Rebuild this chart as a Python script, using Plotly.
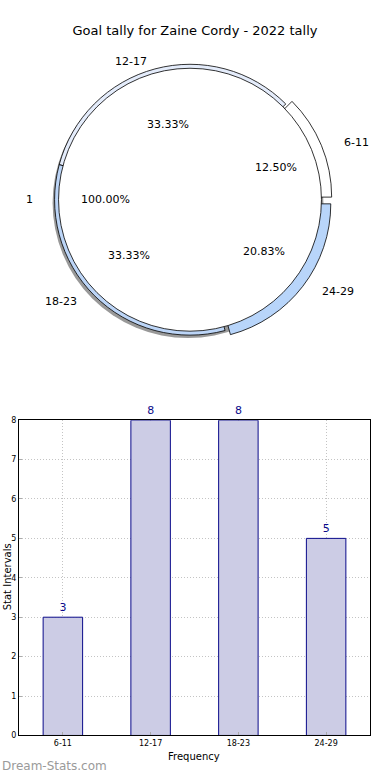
import math
import plotly.graph_objects as go

W, H = 390, 780

title = "Goal tally for Zaine Cordy - 2022 tally"
categories = ["6-11", "12-17", "18-23", "24-29"]
values = [3, 8, 8, 5]
inner_label = ["1"]
inner_value = [24]
y_ticks = [0, 1, 2, 3, 4, 5, 6, 7, 8]

slice_colors = ["#ffffff", "#e4ecfb", "#bcd5f7", "#b8d5fa"]
pulls = [0.05, 0, 0, 0.05]

FONT = "DejaVu Sans"

def px_x(x):
    return x / W

def px_y(y):
    return 1 - y / H

# pie geometry in pixels
cx, cy = 190, 198
R_out = 137
R_in = 133
maxpull = max(pulls)

def dom(cx_, cy_, half):
    return dict(x=[px_x(cx_ - half), px_x(cx_ + half)],
                y=[px_y(cy_ + half), px_y(cy_ - half)])

fig = go.Figure()

# shadow
fig.add_trace(go.Pie(values=inner_value, labels=["shadow"], sort=False,
                     marker=dict(colors=["#999999"], line=dict(width=0)),
                     textinfo="none", hoverinfo="skip", showlegend=False,
                     domain=dom(cx - 2, cy + 3, R_out)))

# outer ring (pie)
fig.add_trace(go.Pie(values=values, labels=categories, sort=False,
                     direction="counterclockwise", rotation=45,
                     pull=pulls,
                     marker=dict(colors=slice_colors, line=dict(color="black", width=0.8)),
                     textinfo="none", showlegend=False,
                     domain=dom(cx, cy, R_out * (1 + maxpull))))

# inner pie
fig.add_trace(go.Pie(values=inner_value, labels=inner_label, sort=False,
                     marker=dict(colors=["#ffffff"], line=dict(color="black", width=0.8)),
                     textinfo="none", showlegend=False,
                     domain=dom(cx, cy, R_in)))

# text positions on the (elliptical) reference layout
rxo, ryo = 143, 132
rxi, ryi = 141, 128
annotations = []

def txt(x, y, text, size=11, color="black", xanchor="center", yanchor="middle", **kw):
    annotations.append(dict(x=px_x(x), y=px_y(y), xref="paper", yref="paper", text=text,
                            showarrow=False, xanchor=xanchor, yanchor=yanchor,
                            font=dict(family=FONT, size=size, color=color), **kw))

def add_pie_texts(label, pct, mid_deg, pull, rx, ry):
    a = math.radians(mid_deg)
    c, s = math.cos(a), math.sin(a)
    txt(cx + (0.6 + pull) * rx * c, cy - (0.6 + pull) * ry * s, f"{pct:.2f}%")
    txt(cx + (1.1 + pull) * rx * c, cy - (1.1 + pull) * ry * s, label,
        xanchor="left" if c > 0 else "right")

total = sum(values)
cum = 0
for cat, v, p in zip(categories, values, pulls):
    mid = (cum + v / 2) / total * 360
    cum += v
    add_pie_texts(cat, v / total * 100, mid, p, rxo, ryo)
add_pie_texts(inner_label[0], 100.0, 180, 0, rxi, ryi)

# bar chart
fig.add_trace(go.Bar(x=categories, y=values, width=0.45,
                     marker=dict(color="#ccccE5", line=dict(color="#0a0a8a", width=1)),
                     text=[str(v) for v in values], textposition="outside",
                     textfont=dict(family=FONT, size=11, color="#0a0a8a"),
                     cliponaxis=False, showlegend=False,
                     xaxis="x", yaxis="y"))

txt(7, 580, "Stat Intervals", size=10, textangle=-90)
txt(194, 761, "Frequency", size=10)
txt(0, 771, "Dream-Stats.com", size=12, color="#9a9a9a", xanchor="left")

grid = dict(showgrid=True, gridcolor="#c4c4c4", griddash="1px,2px", gridwidth=1)
fig.update_layout(
    width=W, height=H,
    margin=dict(l=0, r=0, t=0, b=0),
    paper_bgcolor="white", plot_bgcolor="white",
    title=dict(text=title, x=0.5, xanchor="center", y=px_y(30), yanchor="middle",
               font=dict(family=FONT, size=13, color="black")),
    annotations=annotations,
    xaxis=dict(domain=[px_x(19), px_x(370)], range=[-0.5, 3.5],
               showline=True, linecolor="black", linewidth=1, mirror=True,
               ticks="inside", ticklen=3, tickcolor="#aaaaaa",
               tickfont=dict(family=FONT, size=8, color="black"), zeroline=False, **grid),
    yaxis=dict(domain=[px_y(740), px_y(421)], range=[0, 8], tickvals=y_ticks,
               showline=True, linecolor="black", linewidth=1, mirror=True,
               ticks="inside", ticklen=3, tickcolor="#aaaaaa",
               tickfont=dict(family=FONT, size=8, color="black"), zeroline=False, **grid),
    font=dict(family=FONT),
)

fig.write_html("out.html", config={"displayModeBar": False},
               post_script="document.body.style.margin='0';")
